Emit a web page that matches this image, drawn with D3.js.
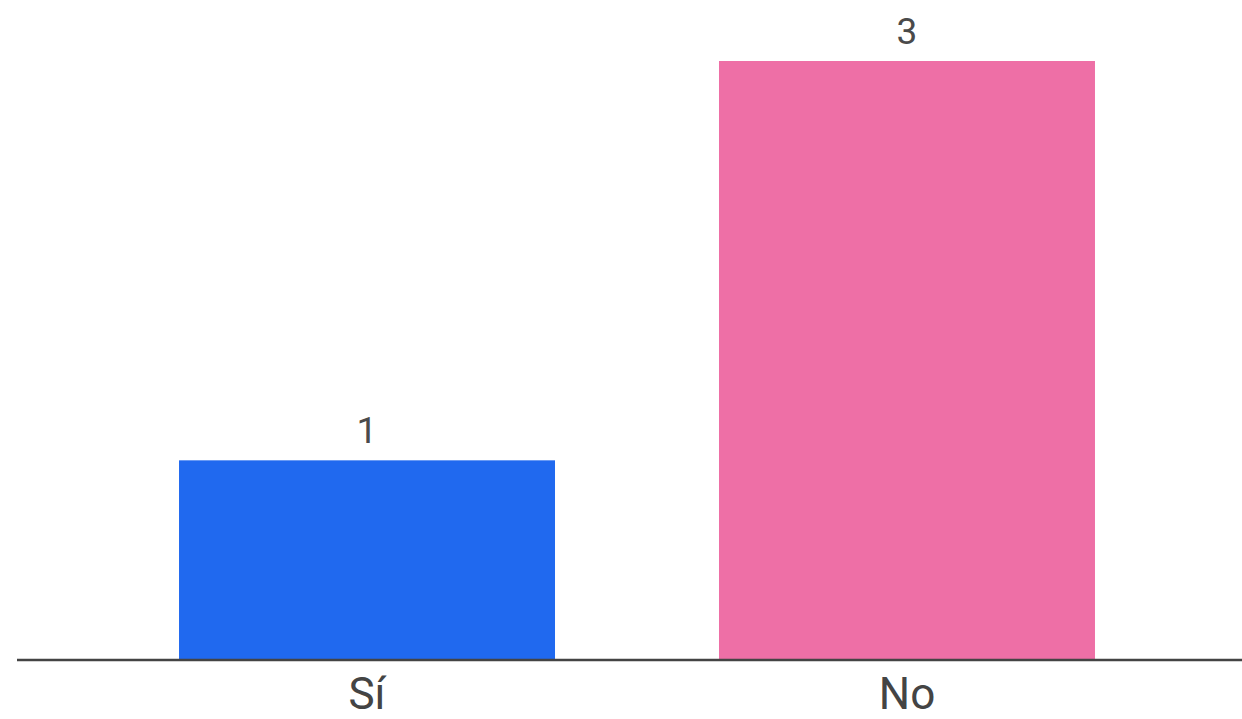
<!DOCTYPE html>
<html>
    <head>
        <meta charset="utf-8">
        <title>Sí / No</title>
        <script src="https://d3js.org/d3.v7.min.js"></script>
        <style>
            body { margin: 0; background: #fff; }
            text { font-family: Roboto, "Noto Sans", Arial, sans-serif; }
        </style>
    </head>
    <body>
        <svg width="1242" height="719"></svg>
        <script>
            // datos
            const categories = ["Sí", "No"];
            const values = [1, 3];
            const colors = ["#2069ef", "#ee6fa6"];

            const svg = d3.select("svg");

            // escalas
            const x = d3.scaleBand()
                .domain(categories)
                .range([97, 1177])
                .paddingInner(0.3037)
                .paddingOuter(0.1519);

            const y = d3.scaleLinear().domain([0, 3]).range([660, 61]);

            // barras
            svg.selectAll(".bar")
                .data(categories)
                .join("rect")
                .attr("class", "bar")
                .attr("x", (d) => x(d))
                .attr("y", (d, i) => y(values[i]))
                .attr("width", x.bandwidth())
                .attr("height", (d, i) => y(0) - y(values[i]))
                .attr("fill", (d, i) => colors[i]);

            // etiquetas de valor
            svg.selectAll(".val")
                .data(categories)
                .join("text")
                .attr("class", "val")
                .attr("x", (d) => x(d) + x.bandwidth() / 2)
                .attr("y", (d, i) => y(values[i]) - 17)
                .attr("text-anchor", "middle")
                .attr("font-size", 37)
                .attr("fill", "#4a4a4a")
                .text((d, i) => values[i]);

            // eje x
            const xAxis = svg.append("g")
                .attr("transform", `translate(0,${y(0)})`)
                .call(d3.axisBottom(x).tickSize(0).tickPadding(18));
            xAxis.select(".domain").remove();
            xAxis.selectAll("text")
                .attr("font-size", 44)
                .attr("fill", "#444")
                .attr("dy", "0.71em");

            svg.append("line")
                .attr("x1", 17)
                .attr("x2", 1242)
                .attr("y1", y(0))
                .attr("y2", y(0))
                .attr("stroke", "#444")
                .attr("stroke-width", 2.5);
        </script>
    </body>
</html>
